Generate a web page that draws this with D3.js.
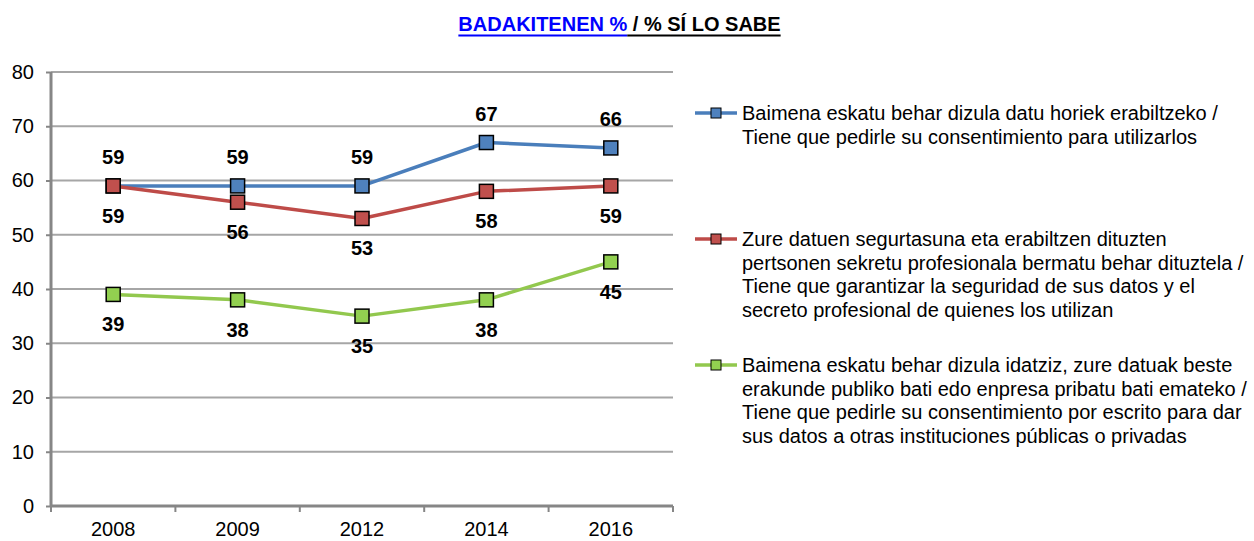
<!DOCTYPE html>
<html>
<head>
<meta charset="utf-8">
<script src="https://cdn.jsdelivr.net/npm/d3@7/dist/d3.min.js"></script>
<style>
  html, body { margin: 0; padding: 0; background: #fff; }
  svg { display: block; font-family: Arial, "Liberation Sans", sans-serif; }
</style>
</head>
<body>
<svg id="chart" width="1254" height="541"></svg>
<script>
// Survey years on the x axis
const years = ["2008", "2009", "2012", "2014", "2016"];

// "% sí lo sabe" for each statement
const consentUse = [59, 59, 59, 67, 66];
const securitySecret = [59, 56, 53, 58, 59];
const writtenConsent = [39, 38, 35, 38, 45];

const yTicks = [0, 10, 20, 30, 40, 50, 60, 70, 80];

const seriesNames = [
  ["Baimena eskatu behar dizula datu horiek erabiltzeko /",
   "Tiene que pedirle su consentimiento para utilizarlos"],
  ["Zure datuen segurtasuna eta erabiltzen dituzten",
   "pertsonen sekretu profesionala bermatu behar dituztela /",
   "Tiene que garantizar la seguridad de sus datos y el",
   "secreto profesional de quienes los utilizan"],
  ["Baimena eskatu behar dizula idatziz, zure datuak beste",
   "erakunde publiko bati edo enpresa pribatu bati emateko /",
   "Tiene que pedirle su consentimiento por escrito para dar",
   "sus datos a otras instituciones públicas o privadas"]
];

const series = [
  { values: consentUse,     line: "#4A7EBB", fill: "#4F81BD", labelPos: "above" },
  { values: securitySecret, line: "#BE4B48", fill: "#C0504D", labelPos: "below" },
  { values: writtenConsent, line: "#92C84E", fill: "#92D050", labelPos: "below" }
];

const FONT = "Arial, 'Liberation Sans', sans-serif";
const svg = d3.select("#chart");
const plot = { left: 51, right: 673, top: 72, bottom: 506 };

const x = d3.scaleBand().domain(years).range([plot.left, plot.right]).padding(0);
const y = d3.scaleLinear().domain([0, 80]).range([plot.bottom, plot.top]);

// Title, two underlined parts
const title = svg.append("text")
  .attr("y", 31)
  .attr("font-size", 20)
  .attr("font-weight", "bold");
const t1 = title.append("tspan").attr("fill", "#0000FF").text("BADAKITENEN %");
const t2 = title.append("tspan").attr("fill", "#000").text(" / % SÍ LO SABE");
const titleW = title.node().getComputedTextLength();
const titleX = 619.5 - titleW / 2;
title.attr("x", titleX);
const w1 = t1.node().getComputedTextLength();
svg.append("line").attr("x1", titleX).attr("x2", titleX + w1)
  .attr("y1", 35.5).attr("y2", 35.5).attr("stroke", "#0000FF").attr("stroke-width", 2);
svg.append("line").attr("x1", titleX + w1).attr("x2", titleX + titleW)
  .attr("y1", 35.5).attr("y2", 35.5).attr("stroke", "#000").attr("stroke-width", 2);

// Horizontal gridlines
svg.append("g")
  .selectAll("line")
  .data(yTicks.filter(d => d > 0))
  .join("line")
  .attr("x1", plot.left).attr("x2", plot.right)
  .attr("y1", d => y(d)).attr("y2", d => y(d))
  .attr("stroke", "#A6A6A6").attr("stroke-width", 2);

// Y axis
const yAxis = svg.append("g")
  .attr("transform", `translate(${plot.left},0)`)
  .call(d3.axisLeft(y).tickValues(yTicks).tickSize(5).tickPadding(12));
yAxis.select(".domain").attr("stroke", "#868686").attr("stroke-width", 3)
  .attr("d", `M0,${plot.top}V${plot.bottom}`);
yAxis.selectAll(".tick line").attr("stroke", "#868686").attr("stroke-width", 2);
yAxis.selectAll(".tick text").attr("font-size", 20).attr("fill", "#000")
  .attr("font-family", FONT);

// X axis with ticks at band edges
const xAxis = svg.append("g")
  .attr("transform", `translate(0,${plot.bottom})`)
  .call(d3.axisBottom(x).tickSize(0));
xAxis.select(".domain").attr("stroke", "#868686").attr("stroke-width", 3)
  .attr("d", `M${plot.left},0H${plot.right}`);
xAxis.selectAll(".tick text")
  .attr("y", 30).attr("dy", null)
  .attr("font-size", 20).attr("fill", "#000")
  .attr("font-family", FONT);
const edges = years.map(d => x(d)).concat([plot.right]);
xAxis.append("g").selectAll("line")
  .data(edges)
  .join("line")
  .attr("x1", d => d).attr("x2", d => d)
  .attr("y1", 0).attr("y2", 6)
  .attr("stroke", "#868686").attr("stroke-width", 2);

const cx = d => x(d) + x.bandwidth() / 2;
const line = d3.line().x(d => cx(d.year)).y(d => y(d.value));

// Lines, markers and value labels
series.forEach(s => {
  const pts = years.map((yr, i) => ({ year: yr, value: s.values[i] }));
  const g = svg.append("g");
  g.append("path").datum(pts)
    .attr("d", line)
    .attr("fill", "none")
    .attr("stroke", s.line)
    .attr("stroke-width", 3.5)
    .attr("stroke-linejoin", "round");
  g.selectAll("rect").data(pts).join("rect")
    .attr("x", d => cx(d.year) - 7)
    .attr("y", d => y(d.value) - 7)
    .attr("width", 14).attr("height", 14)
    .attr("fill", s.fill)
    .attr("stroke", "#000").attr("stroke-width", 1.5);
  g.selectAll("text").data(pts).join("text")
    .attr("x", d => cx(d.year))
    .attr("y", d => y(d.value) + (s.labelPos === "above" ? -22 : 37))
    .attr("text-anchor", "middle")
    .attr("font-size", 20)
    .attr("font-weight", "bold")
    .attr("fill", "#000")
    .text(d => d.value);
});

// Legend
const legendY = [113, 239, 365];
series.forEach((s, i) => {
  const g = svg.append("g").attr("transform", `translate(0,${legendY[i]})`);
  g.append("line").attr("x1", 695).attr("x2", 737).attr("y1", 0).attr("y2", 0)
    .attr("stroke", s.line).attr("stroke-width", 3.5);
  g.append("rect").attr("x", 711).attr("y", -5).attr("width", 10).attr("height", 10)
    .attr("fill", s.fill).attr("stroke", "#000").attr("stroke-width", 1);
  const txt = g.append("text").attr("font-size", 20).attr("fill", "#000");
  seriesNames[i].forEach((ln, j) => {
    txt.append("tspan").attr("x", 742).attr("y", 7 + j * 23.5).text(ln);
  });
});
</script>
</body>
</html>
